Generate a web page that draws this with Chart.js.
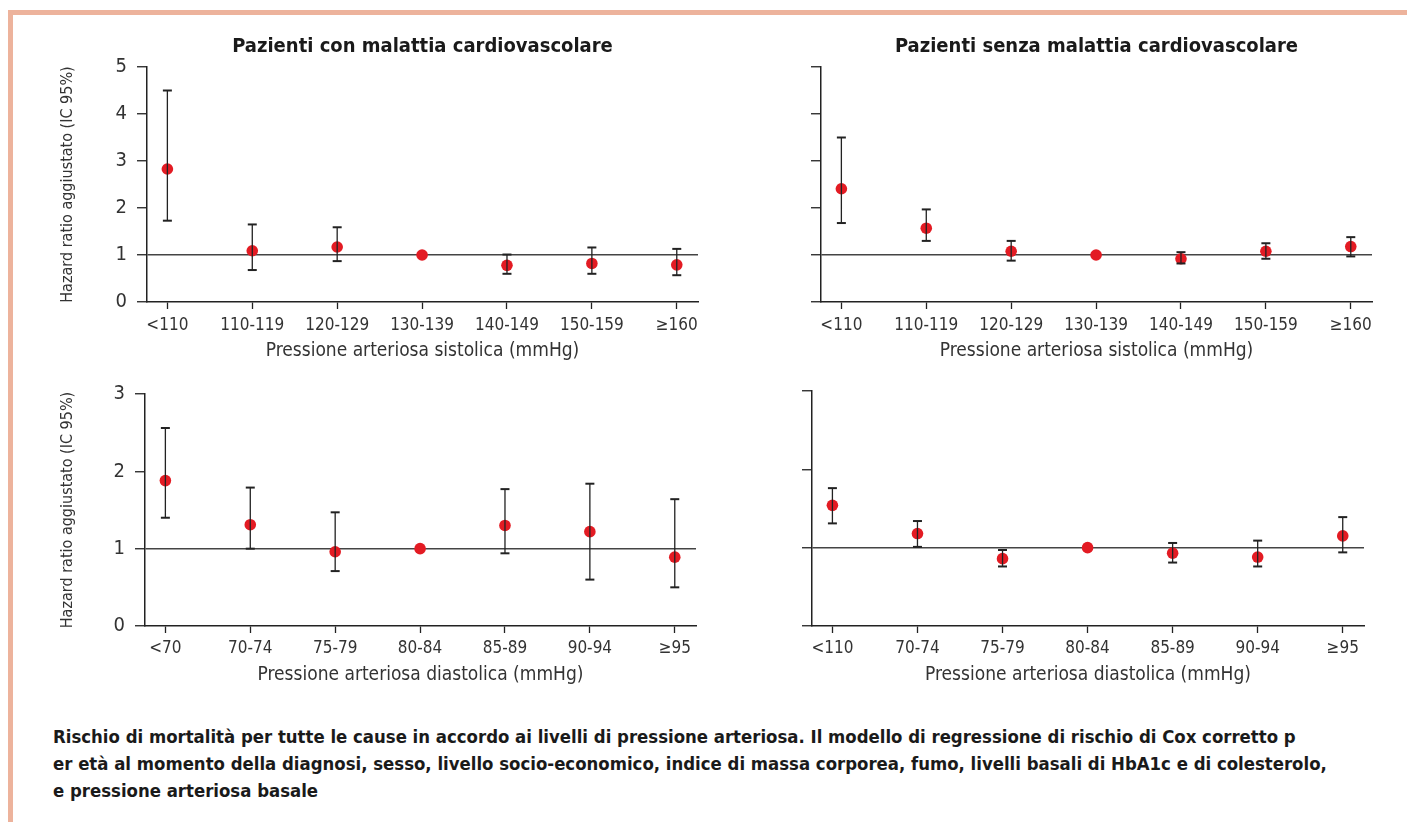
<!DOCTYPE html>
<html lang="it">
<head>
<meta charset="utf-8">
<script src="https://cdn.jsdelivr.net/npm/chart.js@4.4.0/dist/chart.umd.min.js"></script>
<style>
  html, body { margin: 0; padding: 0; background: #fff; }
  body { width: 1407px; height: 822px; position: relative; overflow: hidden; }
  .frame { position: absolute; left: 8px; top: 10px; right: 0; bottom: 0;
           border-top: 5px solid #EDB39C; border-left: 5px solid #EDB39C; }
  canvas { position: absolute; }
  .caption { position: absolute; left: 53px; top: 723px; color: #1a1a1a;
             font: bold 18.4px 'Liberation Sans Narrow', 'DejaVu Sans Condensed', sans-serif;
             line-height: 27px; white-space: nowrap; }
</style>
</head>
<body>
<div class="frame"></div>
<canvas id="c1" width="712" height="372" style="left:0;top:0"></canvas>
<canvas id="c2" width="695" height="372" style="left:712px;top:0"></canvas>
<canvas id="c3" width="712" height="330" style="left:0;top:372px"></canvas>
<canvas id="c4" width="695" height="330" style="left:712px;top:372px"></canvas>
<div class="caption">
  Rischio di mortalità per tutte le cause in accordo ai livelli di pressione arteriosa. Il modello di regressione di rischio di Cox corretto p<br>
  er età al momento della diagnosi, sesso, livello socio-economico, indice di massa corporea, fumo, livelli basali di HbA1c e di colesterolo,<br>
  e pressione arteriosa basale
</div>
<script>
// categories
const sysCats = ['<110', '110-119', '120-129', '130-139', '140-149', '150-159', '≥160'];
const diaCats = ['<70', '70-74', '75-79', '80-84', '85-89', '90-94', '≥95'];
const diaCatsNoCvd = ['<110', '70-74', '75-79', '80-84', '85-89', '90-94', '≥95'];

// sistolica, con malattia cardiovascolare
const sysCvdHr = [2.83, 1.09, 1.17, 1.00, 0.78, 0.82, 0.79];
const sysCvdLo = [1.73, 0.68, 0.87, null, 0.60, 0.60, 0.57];
const sysCvdHi = [4.50, 1.65, 1.59, null, 1.01, 1.16, 1.13];

// sistolica, senza malattia cardiovascolare
const sysNoHr = [2.41, 1.57, 1.08, 1.00, 0.92, 1.08, 1.18];
const sysNoLo = [1.68, 1.30, 0.88, null, 0.82, 0.92, 0.97];
const sysNoHi = [3.50, 1.97, 1.30, null, 1.06, 1.25, 1.38];

// diastolica, con malattia cardiovascolare
const diaCvdHr = [1.88, 1.31, 0.96, 1.00, 1.30, 1.22, 0.89];
const diaCvdLo = [1.40, 1.00, 0.71, null, 0.94, 0.60, 0.50];
const diaCvdHi = [2.56, 1.79, 1.47, null, 1.77, 1.84, 1.64];

// diastolica, senza malattia cardiovascolare
const diaNoHr = [1.54, 1.18, 0.86, 1.00, 0.93, 0.88, 1.15];
const diaNoLo = [1.31, 1.01, 0.76, null, 0.81, 0.76, 0.94];
const diaNoHi = [1.76, 1.34, 0.97, null, 1.06, 1.09, 1.39];

const yTitle = 'Hazard ratio aggiustato (IC 95%)';
const FONT = "'Liberation Sans Narrow', 'DejaVu Sans Condensed', sans-serif";
const RED = '#E31B23';
const INK = '#222';

function makePanel(id, o) {
  // whisker segments, separated by null so each CI is its own line
  const whiskers = [];
  o.lo.forEach((lo, i) => {
    if (lo === null) return;
    whiskers.push({x: i, y: lo}, {x: i, y: o.hi[i]}, {x: i, y: null});
  });

  new Chart(document.getElementById(id), {
    type: 'scatter',
    data: {
      datasets: [
        {
          type: 'line',
          data: whiskers,
          showLine: true,
          spanGaps: false,
          borderColor: INK,
          borderWidth: 1.3,
          pointStyle: 'line',
          pointRadius: 4.5,
          pointBorderWidth: 2,
          pointBorderColor: INK,
        },
        {
          data: o.hr.map((v, i) => ({x: i, y: v})),
          pointRadius: 5.8,
          pointBackgroundColor: RED,
          pointBorderColor: RED,
          pointBorderWidth: 0,
        }
      ]
    },
    options: {
      responsive: false,
      animation: false,
      events: [],
      layout: {padding: {left: 0, right: o.padRight, top: o.padTop, bottom: 0}},
      plugins: {
        legend: {display: false},
        tooltip: {enabled: false},
        title: {
          display: !!o.title,
          text: o.title,
          fullSize: false,
          color: '#1a1a1a',
          font: {family: FONT, size: 20, weight: 'bold', lineHeight: 1.2},
          padding: {top: 35, bottom: 8}
        }
      },
      scales: {
        x: {
          type: 'linear',
          min: -0.24,
          max: 6.25,
          afterBuildTicks: s => { s.ticks = o.cats.map((c, i) => ({value: i})); },
          afterFit: s => { s.height = o.xHeight; },
          border: {display: true, color: INK, width: 1.5},
          grid: {drawOnChartArea: false, tickLength: 7, tickColor: INK, tickWidth: 1.3},
          ticks: {
            autoSkip: false,
            maxRotation: 0,
            padding: o.xTickPad,
            color: '#333',
            font: {family: FONT, size: 17},
            callback: v => o.cats[v]
          },
          title: {
            display: true,
            text: o.xTitle,
            color: '#333',
            font: {family: FONT, size: 19},
            padding: {top: 0, bottom: o.xTitlePad}
          }
        },
        y: {
          min: 0,
          max: o.yMax,
          afterFit: s => { s.width = o.yWidth; },
          border: {display: true, color: INK, width: 1.5},
          grid: {
            drawOnChartArea: true,
            color: c => (c.tick && c.tick.value === 1) ? '#444' : 'rgba(0,0,0,0)',
            lineWidth: 1.5,
            tickLength: 10,
            tickColor: INK,
            tickWidth: 1.3
          },
          ticks: {
            display: o.showY,
            stepSize: 1,
            padding: 10,
            color: '#333',
            font: {family: FONT, size: 20}
          },
          title: {
            display: o.showY,
            text: yTitle,
            color: '#333',
            font: {family: FONT, size: 16},
            padding: {top: 58, bottom: 0}
          }
        }
      }
    }
  });
}

makePanel('c1', {
  title: 'Pazienti con malattia cardiovascolare',
  cats: sysCats, hr: sysCvdHr, lo: sysCvdLo, hi: sysCvdHi,
  yMax: 5, showY: true, yWidth: 147, padRight: 14, padTop: 0,
  xHeight: 70, xTickPad: 6, xTitlePad: 10, xTitle: 'Pressione arteriosa sistolica (mmHg)'
});
makePanel('c2', {
  title: 'Pazienti senza malattia cardiovascolare',
  cats: sysCats, hr: sysNoHr, lo: sysNoLo, hi: sysNoHi,
  yMax: 5, showY: false, yWidth: 109, padRight: 35, padTop: 0,
  xHeight: 70, xTickPad: 6, xTitlePad: 10, xTitle: 'Pressione arteriosa sistolica (mmHg)'
});
makePanel('c3', {
  title: '',
  cats: diaCats, hr: diaCvdHr, lo: diaCvdLo, hi: diaCvdHi,
  yMax: 3, showY: true, yWidth: 145, padRight: 16, padTop: 19,
  xHeight: 76, xTickPad: 5, xTitlePad: 16, xTitle: 'Pressione arteriosa diastolica (mmHg)'
});
makePanel('c4', {
  title: '',
  cats: diaCatsNoCvd, hr: diaNoHr, lo: diaNoLo, hi: diaNoHi,
  yMax: 3, showY: false, yWidth: 100, padRight: 43, padTop: 19,
  xHeight: 76, xTickPad: 5, xTitlePad: 16, xTitle: 'Pressione arteriosa diastolica (mmHg)'
});
</script>
</body>
</html>
